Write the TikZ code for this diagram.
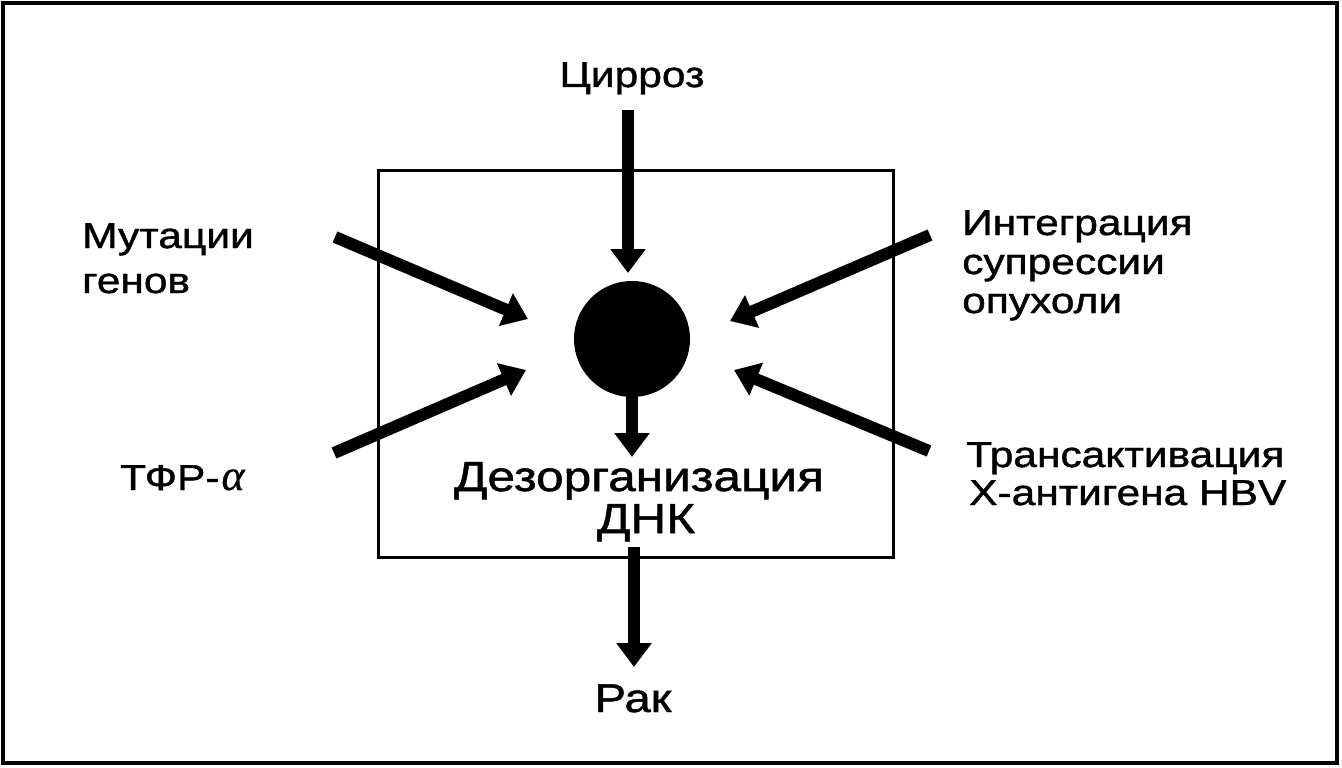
\documentclass[tikz,border=0pt]{standalone}
\usepackage{fontspec}
\setmainfont{Liberation Sans}[FakeStretch=1.18,FakeBold=1.2]
\newfontfamily\alphafont{Liberation Serif}[FakeBold=0.6]
\usetikzlibrary{arrows.meta}
\begin{document}
\begin{tikzpicture}[x=1pt,y=-1pt,
  lab/.style={inner sep=0pt,font=\fontsize{36}{40}\selectfont},
  big/.style={inner sep=0pt,font=\fontsize{42}{46}\selectfont},
  fat/.style={line width=12pt,-{Triangle[length=24pt,width=34pt]}},
  frame/.style={line width=3pt}]
\useasboundingbox (0,0) rectangle (1342,768);
\draw[line width=4pt] (3,3) rectangle (1337,763);
\draw[frame] (378,170) rectangle (893,557);
\node[circle,fill=black,minimum size=116pt,inner sep=0pt] (c) at (632,339) {};
% labels
\node[lab,anchor=base] (cir) at (632,87) {Цирроз};
\node[lab,anchor=base west] (mut1) at (82,248) {Мутации};
\node[lab,anchor=base west] (mut2) at (82,293) {генов};
\node[lab,anchor=base west] (tfr) at (120,490) {ТФР-\kern2pt{\alphafont\itshape\fontsize{44}{48}\selectfont α}};
\node[lab,anchor=base west] (int1) at (962,235) {Интеграция};
\node[lab,anchor=base west] (int2) at (962,274) {супрессии};
\node[lab,anchor=base west] (int3) at (962,313) {опухоли};
\node[lab,anchor=base west] (tra1) at (966,467) {Трансактивация};
\node[lab,anchor=base west] (tra2) at (969,505) {Х-антигена HBV};
\node[big,anchor=base] (dez1) at (639,491) {Дезорганизация};
\node[big,anchor=base] (dez2) at (646,533) {ДНК};
\node[big,anchor=base,font=\fontsize{40}{44}\selectfont] (rak) at (633,712) {Рак};
% arrow end points
\coordinate (cirT) at (628,110);
\coordinate (cirH) at (628,273);
\coordinate (mutT) at (335,237);
\coordinate (mutH) at (528,319);
\coordinate (tfrT) at (334,453);
\coordinate (tfrH) at (526,370);
\coordinate (intT) at (930,235);
\coordinate (intH) at (730,321);
\coordinate (traT) at (929,451);
\coordinate (traH) at (734,370);
\coordinate (dezH) at (632,457);
\coordinate (rakT) at (634,547);
\coordinate (rakH) at (634,667);
% arrows
\draw[fat] (cirT) -- (cirH);
\draw[fat] (mutT) -- (mutH);
\draw[fat] (tfrT) -- (tfrH);
\draw[fat] (intT) -- (intH);
\draw[fat] (traT) -- (traH);
\draw[fat] (c.south) -- (dezH);
\draw[fat] (rakT) -- (rakH);
\end{tikzpicture}
\end{document}
